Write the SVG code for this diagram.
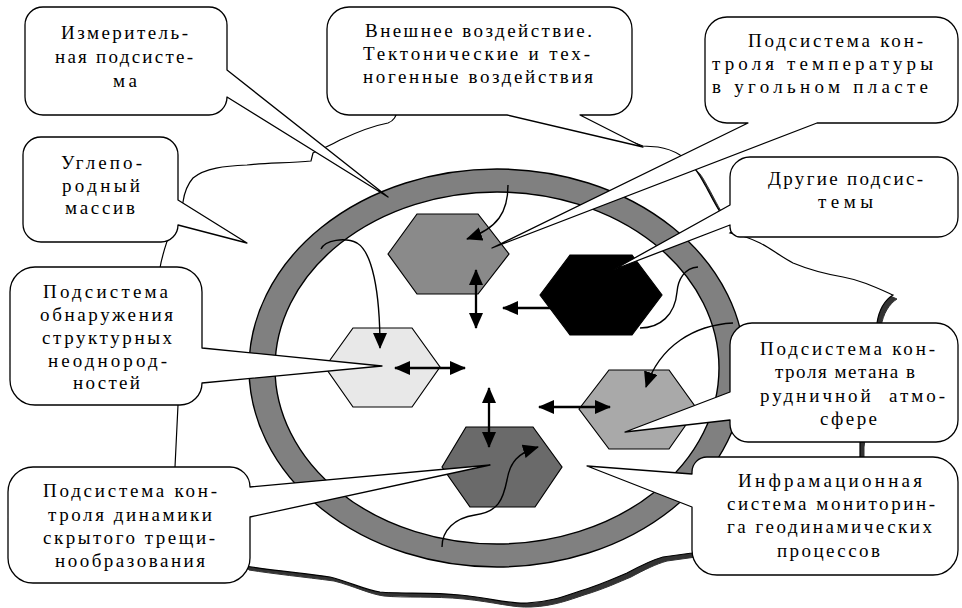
<svg xmlns="http://www.w3.org/2000/svg" width="962" height="608" viewBox="0 0 962 608">
<style>
.co{fill:#fff;stroke:#000;stroke-width:1.3;stroke-linejoin:round}
.t{font-family:"Liberation Serif","Times New Roman",serif;font-size:19px;fill:#000}
.hx{stroke:#000;stroke-width:1.2}
.thick{fill:none;stroke:#000;stroke-width:2.3}
.thin{fill:none;stroke:#000;stroke-width:1.4}
</style>
<defs>
<marker id="ah" viewBox="0 0 16 14" refX="15" refY="7" markerWidth="16" markerHeight="14" markerUnits="userSpaceOnUse" orient="auto-start-reverse"><path d="M0,0 L16,7 L0,14 Z" fill="#000"/></marker>
<path id="massifPath" d="M398,110 C396,116 394,121 388,123 C372,126 355,133 340,140 C330,146 318,150 313,153 L311,161 C290,163 265,163 247,165 C225,166 205,168 193,178 C186,186 184,195 183,202 L170,232 C166,245 162,255 160,268 L178,405 L175,467 L245,566 C270,570 300,573 330,577 C350,582 365,590 380,592 C400,594 430,592 460,595 C490,598 510,604 527,603 C550,602 565,596 580,591 C600,585 615,578 627,573 C640,566 652,560 663,557 L692,553 L860,457 L860,443 L877,323 C879,310 885,300 893,295 C875,287 860,280 843,277 C820,273 805,268 793,263 C780,256 770,248 760,243 C750,238 740,235 730,233 L745,220 L722,215 C715,205 708,190 705,185 C700,176 697,170 693,167 C688,160 684,157 680,155 C672,150 665,148 658,147 L643,146 L600,130 L560,118 L500,100 Z"/>
</defs>
<rect width="962" height="608" fill="#fff"/>
<g id="massif">
<use href="#massifPath" transform="translate(4,4)" fill="#333" stroke="#333" stroke-width="1"/>
<use href="#massifPath" fill="#fff" stroke="#000" stroke-width="1.2"/>
</g>
<g id="ring">
<ellipse cx="497" cy="368" rx="248" ry="199" fill="#808080" stroke="#000" stroke-width="1.4"/>
<ellipse cx="497" cy="368" rx="222" ry="176" fill="#fff" stroke="#000" stroke-width="1.4"/>
</g>
<g id="hex-temperature"><polygon class="hx" fill="#8a8a8a" points="388,254 417,214 478,214 509,254 478,294 417,294"/></g>
<g id="hex-other"><polygon class="hx" fill="#000" points="540,295 570,255 632,255 662,295 632,335 570,335"/></g>
<g id="hex-structure"><polygon class="hx" fill="#e8e8e8" points="325,367 353,328 412,328 440,367 412,407 353,407"/></g>
<g id="hex-methane"><polygon class="hx" fill="#a9a9a9" points="579,409 609,370 669,370 697,409 669,449 609,449"/></g>
<g id="hex-cracks"><polygon class="hx" fill="#6a6a6a" points="442,467 466,427 533,427 562,467 535,507 470,507"/></g>
<g id="connectors">
<path class="thick" d="M476,270 V328" marker-start="url(#ah)" marker-end="url(#ah)"/>
<path class="thick" d="M552,308 H503" marker-end="url(#ah)"/>
<path class="thick" d="M395,368 H465" marker-start="url(#ah)" marker-end="url(#ah)"/>
<path class="thick" d="M489,388 V447" marker-start="url(#ah)" marker-end="url(#ah)"/>
<path class="thick" d="M539,407 H610" marker-start="url(#ah)" marker-end="url(#ah)"/>
<path class="thin" d="M508,185 C508,212 498,228 467,239" marker-end="url(#ah)"/>
<path class="thin" d="M321,249 C325,240 345,237 357,243 C372,252 380,290 380,348" marker-end="url(#ah)"/>
<path class="thin" d="M698,267 C684,268 678,280 677,292 C675,315 660,328 640,328"/>
<path class="thin" d="M733,323 C695,325 660,345 646,387" marker-end="url(#ah)"/>
<path class="thin" d="M442,547 C442,530 455,518 475,515 C498,512 503,500 507,480 C510,462 518,453 538,447" marker-end="url(#ah)"/>
</g>
<g id="callout-measuring">
<path class="co" d="M43,7 H209 A18,18 0 0 1 227,25 V70 L388,197 L227,97 A18,18 0 0 1 209,115 H43 A18,18 0 0 1 25,97 V25 A18,18 0 0 1 43,7 Z"/>
<text class="t" x="61" y="39" textLength="127" lengthAdjust="spacing">Измеритель-</text>
<text class="t" x="55" y="63" textLength="138" lengthAdjust="spacing">ная подсисте-</text>
<text class="t" x="113" y="87" textLength="24" lengthAdjust="spacing">ма</text>
</g>
<g id="callout-massif">
<path class="co" d="M41,137 H160 A18,18 0 0 1 178,155 V200 L247,243 L178,225 A17,17 0 0 1 161,242 H41 A18,18 0 0 1 23,224 V155 A18,18 0 0 1 41,137 Z"/>
<text class="t" x="61" y="169" textLength="81" lengthAdjust="spacing">Углепо-</text>
<text class="t" x="62" y="192" textLength="78" lengthAdjust="spacing">родный</text>
<text class="t" x="65" y="214" textLength="70" lengthAdjust="spacing">массив</text>
</g>
<g id="callout-external">
<path class="co" d="M349,7 H610 A22,22 0 0 1 632,29 V93 A22,22 0 0 1 610,115 H580 L643,147 L507,115 H349 A22,22 0 0 1 327,93 V29 A22,22 0 0 1 349,7 Z"/>
<text class="t" x="365" y="37" textLength="227" lengthAdjust="spacing">Внешнее воздействие.</text>
<text class="t" x="363" y="60" textLength="227" lengthAdjust="spacing">Тектонические и тех-</text>
<text class="t" x="363" y="83" textLength="230" lengthAdjust="spacing">ногенные воздействия</text>
</g>
<g id="callout-temperature">
<path class="co" d="M727,17 H936 A22,22 0 0 1 958,39 V101 A22,22 0 0 1 936,123 H817 L492,248 L748,123 H727 A22,22 0 0 1 705,101 V39 A22,22 0 0 1 727,17 Z"/>
<text class="t" x="748" y="47" textLength="175" lengthAdjust="spacing">Подсистема кон-</text>
<text class="t" x="712" y="70" textLength="221" lengthAdjust="spacing">троля температуры</text>
<text class="t" x="712" y="93" textLength="216" lengthAdjust="spacing">в угольном пласте</text>
</g>
<g id="callout-other">
<path class="co" d="M750,157 H938 A20,20 0 0 1 958,177 V217 A20,20 0 0 1 938,237 H740 A10,10 0 0 1 730,227 V225 L613,270 L730,205 V177 A20,20 0 0 1 750,157 Z"/>
<text class="t" x="768" y="185" textLength="155" lengthAdjust="spacing">Другие подсис-</text>
<text class="t" x="818" y="208" textLength="55" lengthAdjust="spacing">темы</text>
</g>
<g id="callout-methane">
<path class="co" d="M752,323 H936 A22,22 0 0 1 958,345 V420 A22,22 0 0 1 936,442 H748 A18,18 0 0 1 730,424 V420 L625,432 L730,392 V345 A22,22 0 0 1 752,323 Z"/>
<text class="t" x="760" y="355" textLength="175" lengthAdjust="spacing">Подсистема кон-</text>
<text class="t" x="775" y="378" textLength="140" lengthAdjust="spacing">троля метана в</text>
<text class="t" x="760" y="402" textLength="185" lengthAdjust="spacing" xml:space="preserve">рудничной  атмо-</text>
<text class="t" x="820" y="425" textLength="57" lengthAdjust="spacing">сфере</text>
</g>
<g id="callout-info-system">
<path class="co" d="M707,457 H933 A25,25 0 0 1 958,482 V550 A25,25 0 0 1 933,575 H717 A25,25 0 0 1 692,550 V507 L587,466 L692,474 V472 A15,15 0 0 1 707,457 Z"/>
<text class="t" x="738" y="487" textLength="184" lengthAdjust="spacing">Инфрамационная</text>
<text class="t" x="727" y="510" textLength="208" lengthAdjust="spacing">система мониторин-</text>
<text class="t" x="727" y="533" textLength="205" lengthAdjust="spacing">га геодинамических</text>
<text class="t" x="777" y="557" textLength="103" lengthAdjust="spacing">процессов</text>
</g>
<g id="callout-structure">
<path class="co" d="M35,267 H177 A25,25 0 0 1 202,292 V348 L382,366 L202,383 A22,22 0 0 1 180,405 H35 A25,25 0 0 1 10,380 V292 A25,25 0 0 1 35,267 Z"/>
<text class="t" x="43" y="298" textLength="125" lengthAdjust="spacing">Подсистема</text>
<text class="t" x="40" y="321" textLength="133" lengthAdjust="spacing">обнаружения</text>
<text class="t" x="42" y="344" textLength="130" lengthAdjust="spacing">структурных</text>
<text class="t" x="48" y="367" textLength="119" lengthAdjust="spacing">неоднород-</text>
<text class="t" x="73" y="389" textLength="67" lengthAdjust="spacing">ностей</text>
</g>
<g id="callout-cracks">
<path class="co" d="M33,467 H230 A20,20 0 0 1 250,487 L490,465 L250,517 V558 A25,25 0 0 1 225,583 H33 A25,25 0 0 1 8,558 V492 A25,25 0 0 1 33,467 Z"/>
<text class="t" x="43" y="497" textLength="174" lengthAdjust="spacing">Подсистема кон-</text>
<text class="t" x="48" y="521" textLength="164" lengthAdjust="spacing">троля динамики</text>
<text class="t" x="43" y="544" textLength="172" lengthAdjust="spacing">скрытого трещи-</text>
<text class="t" x="55" y="567" textLength="150" lengthAdjust="spacing">нообразования</text>
</g>
</svg>
